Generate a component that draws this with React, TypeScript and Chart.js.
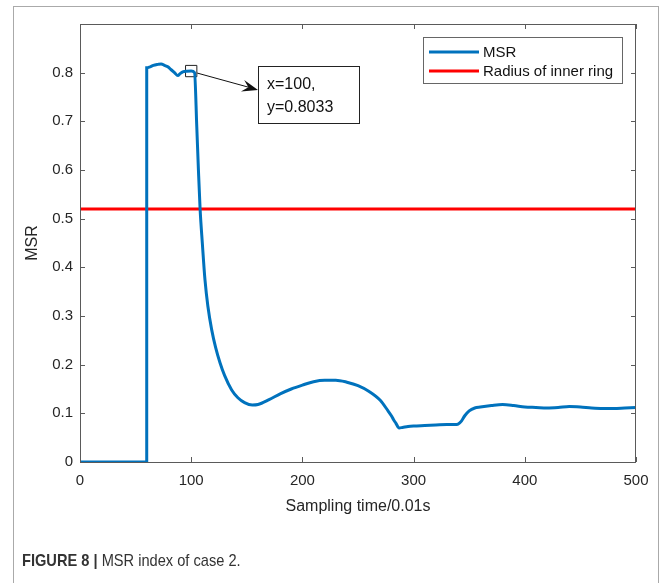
import React, { useEffect, useRef } from "react";
import { Chart, registerables } from "chart.js";

Chart.register(...registerables);

const msrX = [0, 60, 60, 63, 66, 70, 73, 76, 79, 82, 85, 88, 90, 93, 96, 100, 103, 105, 106.5, 108, 110, 112.4, 115, 118.4, 122, 125.9, 130, 136.4, 142, 148, 155, 160, 170, 180, 190, 200, 210, 220, 230, 240, 250, 260, 270, 277, 280, 282, 284, 287, 290, 295, 300, 310, 320, 330, 337, 340, 343, 346, 350, 355, 360, 370, 380, 390, 400, 410, 420, 430, 440, 450, 460, 470, 480, 490, 500];
const msrY = [0, 0, 0.81, 0.812, 0.815, 0.817, 0.818, 0.815, 0.812, 0.806, 0.8, 0.794, 0.798, 0.802, 0.803, 0.8033, 0.8, 0.69, 0.6, 0.52, 0.45, 0.374, 0.32, 0.272, 0.235, 0.204, 0.178, 0.148, 0.132, 0.122, 0.117, 0.118, 0.128, 0.14, 0.15, 0.158, 0.165, 0.168, 0.168, 0.164, 0.157, 0.145, 0.127, 0.105, 0.095, 0.087, 0.08, 0.07, 0.071, 0.073, 0.074, 0.075, 0.076, 0.077, 0.077, 0.078, 0.084, 0.095, 0.105, 0.111, 0.113, 0.116, 0.118, 0.116, 0.113, 0.112, 0.111, 0.112, 0.114, 0.113, 0.111, 0.11, 0.11, 0.111, 0.112];
const radiusX = [0, 500];
const radiusY = [0.52, 0.52];
const markX = 100;
const markY = 0.8033;
const xTicks = [0, 100, 200, 300, 400, 500];
const yTicks = [0, 0.1, 0.2, 0.3, 0.4, 0.5, 0.6, 0.7, 0.8];
const legendLabels = ["MSR", "Radius of inner ring"];
const seriesColors = ["#0072BD", "#FF0000"];
const xTitle = "Sampling time/0.01s";
const yTitle = "MSR";
const annotationLines = ["x=100,", "y=0.8033"];

const FONT = "Arial, 'Liberation Sans', Helvetica, sans-serif";

const decorPlugin = {
  id: "decor",
  afterDatasetsDraw(chart: any) {
    const { ctx, chartArea, scales } = chart;
    const xs = scales.x;
    const ys = scales.y;
    ctx.save();
    ctx.strokeStyle = "#5a5a5a";
    ctx.lineWidth = 1;
    ctx.strokeRect(chartArea.left + 0.5, chartArea.top + 0.5, chartArea.right - chartArea.left - 1, chartArea.bottom - chartArea.top);
    ctx.beginPath();
    const tl = 5;
    for (const v of xTicks) {
      const px = Math.round(xs.getPixelForValue(v)) + 0.5;
      ctx.moveTo(px, chartArea.bottom);
      ctx.lineTo(px, chartArea.bottom - tl);
      ctx.moveTo(px, chartArea.top);
      ctx.lineTo(px, chartArea.top + tl);
    }
    for (const v of yTicks) {
      const py = Math.round(ys.getPixelForValue(v)) + 0.5;
      ctx.moveTo(chartArea.left, py);
      ctx.lineTo(chartArea.left + tl, py);
      ctx.moveTo(chartArea.right, py);
      ctx.lineTo(chartArea.right - tl, py);
    }
    ctx.stroke();

    // legend
    const lx = 423, ly = 37, lw = 199, lh = 46;
    ctx.fillStyle = "#fff";
    ctx.fillRect(lx, ly, lw, lh);
    ctx.strokeStyle = "#666";
    ctx.strokeRect(lx + 0.5, ly + 0.5, lw, lh);
    ctx.font = `15px ${FONT}`;
    ctx.textBaseline = "middle";
    legendLabels.forEach((lab, i) => {
      const y = 52 + i * 19;
      ctx.strokeStyle = seriesColors[i];
      ctx.lineWidth = 3;
      ctx.beginPath();
      ctx.moveTo(429, y);
      ctx.lineTo(479, y);
      ctx.stroke();
      ctx.fillStyle = "#111";
      ctx.fillText(lab, 483, y + 1);
    });

    // annotation arrow & box
    const mx = xs.getPixelForValue(markX);
    const my = ys.getPixelForValue(markY);
    const bx = 258, by = 66, bw = 101, bh = 57;
    const sx = mx + 6, sy = my + 2;
    const tx = bx, ty = my + 19;
    ctx.strokeStyle = "#111";
    ctx.lineWidth = 1;
    ctx.beginPath();
    ctx.moveTo(sx, sy);
    ctx.lineTo(tx - 10, ty - 3);
    ctx.stroke();
    const ang = Math.atan2(ty - sy, tx - sx);
    ctx.fillStyle = "#111";
    ctx.beginPath();
    ctx.moveTo(tx, ty);
    ctx.lineTo(tx - 16 * Math.cos(ang) + 6 * Math.sin(ang), ty - 16 * Math.sin(ang) - 6 * Math.cos(ang));
    ctx.lineTo(tx - 10 * Math.cos(ang), ty - 10 * Math.sin(ang));
    ctx.lineTo(tx - 16 * Math.cos(ang) - 6 * Math.sin(ang), ty - 16 * Math.sin(ang) + 6 * Math.cos(ang));
    ctx.closePath();
    ctx.fill();
    ctx.fillStyle = "#fff";
    ctx.fillRect(bx, by, bw, bh);
    ctx.strokeStyle = "#222";
    ctx.strokeRect(bx + 0.5, by + 0.5, bw, bh);
    ctx.fillStyle = "#111";
    ctx.font = `16px ${FONT}`;
    annotationLines.forEach((t, i) => {
      ctx.fillText(t, bx + 9, by + 19 + i * 23);
    });
    ctx.restore();
  },
};

export default function App() {
  const ref = useRef<HTMLCanvasElement>(null);
  useEffect(() => {
    if (!ref.current) return;
    const chart = new Chart(ref.current, {
      type: "line",
      data: {
        datasets: [
          {
            label: legendLabels[0],
            data: msrX.map((x, i) => ({ x, y: msrY[i] })),
            borderColor: seriesColors[0],
            borderWidth: 3,
            pointRadius: 0,
            cubicInterpolationMode: "monotone",
            fill: false,
          },
          {
            label: legendLabels[1],
            data: radiusX.map((x, i) => ({ x, y: radiusY[i] })),
            borderColor: seriesColors[1],
            borderWidth: 3,
            pointRadius: 0,
            fill: false,
          },
          {
            label: "marker",
            data: [{ x: markX, y: markY }],
            showLine: false,
            pointStyle: "rect",
            pointRadius: 8,
            pointBorderWidth: 1,
            pointBorderColor: "#222",
            pointBackgroundColor: "rgba(0,0,0,0)",
          },
        ],
      },
      options: {
        animation: false,
        responsive: false,
        maintainAspectRatio: false,
        layout: { padding: { top: 24, right: 29, left: 0, bottom: 0 } },
        plugins: { legend: { display: false }, tooltip: { enabled: false } },
        scales: {
          x: {
            type: "linear",
            min: 0,
            max: 500,
            grid: { display: false, drawTicks: false },
            border: { display: false },
            afterBuildTicks: (s: any) => { s.ticks = xTicks.map((v) => ({ value: v })); },
            ticks: { color: "#262626", font: { size: 15, family: FONT }, padding: 10, maxRotation: 0 },
            afterFit: (s: any) => { s.height = 121; },
            title: { display: true, text: xTitle, color: "#262626", font: { size: 16, family: FONT }, padding: { top: 0, bottom: 67 } },
          },
          y: {
            type: "linear",
            min: 0,
            max: 0.9,
            grid: { display: false, drawTicks: false },
            border: { display: false },
            afterBuildTicks: (s: any) => { s.ticks = yTicks.map((v) => ({ value: v })); },
            ticks: { color: "#262626", font: { size: 15, family: FONT }, padding: 7, callback: (v: any) => (v === 0 ? "0" : Number(v).toFixed(1)) },
            afterFit: (s: any) => { s.width = 80; },
            title: { display: true, text: yTitle, color: "#262626", font: { size: 16, family: FONT }, padding: { top: 23, bottom: 0 } },
          },
        },
      },
      plugins: [decorPlugin],
    } as any);
    return () => chart.destroy();
  }, []);
  return (
    <div style={{ position: "absolute", left: 0, top: 0, width: 665, height: 583, overflow: "hidden", background: "#fff" }}>
      <div style={{ position: "absolute", left: 13, top: 6, width: 646, height: 620, border: "1px solid #aaa", boxSizing: "border-box" }} />
      <canvas ref={ref} width={665} height={583} style={{ position: "absolute", left: 0, top: 0, width: 665, height: 583 }} />
      <div style={{ position: "absolute", left: 22, top: 551, fontFamily: "Arial, 'Liberation Sans', sans-serif", fontSize: 17, color: "#333", whiteSpace: "nowrap", transform: "scaleX(0.86)", transformOrigin: "left top" }}>
        <span style={{ fontWeight: "bold" }}>FIGURE 8 | </span>
        <span>MSR index of case 2.</span>
      </div>
    </div>
  );
}
